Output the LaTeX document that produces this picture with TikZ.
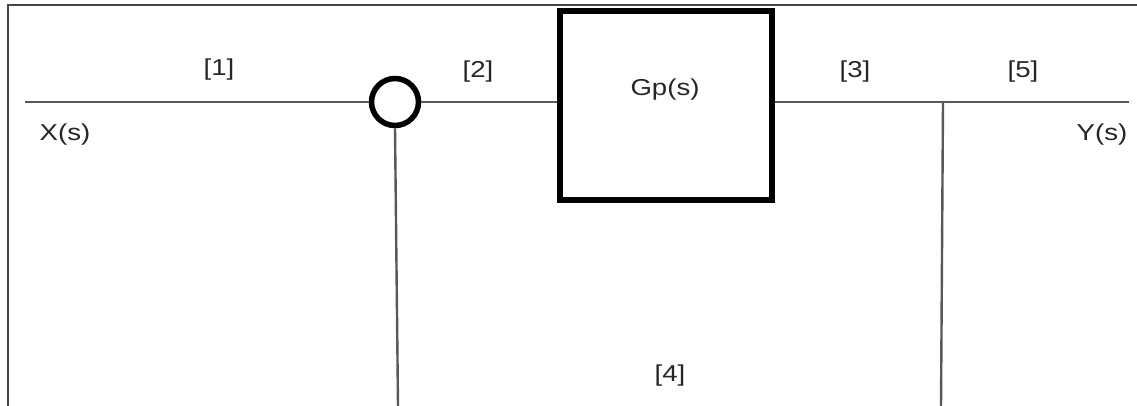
\documentclass[tikz,border=0pt]{standalone}
\usepackage{fontspec}
\setmainfont{Liberation Sans}
\begin{document}
\begin{tikzpicture}[x=1pt,y=-1pt,
  wire/.style={draw=black!65,line width=2.4pt},
  framel/.style={draw=black!72,line width=2pt},
  lbl/.style={text=black!85,inner sep=0pt,font=\fontsize{23}{27}\selectfont},
  sumnode/.style={circle,draw=black,line width=5.5pt,minimum size=47pt,inner sep=0pt},
  blocknode/.style={rectangle,draw=black,line width=6pt,minimum width=212pt,minimum height=189pt,inner sep=0pt}]
\useasboundingbox (0,0) rectangle (1137,405);
\fill[white] (0,0) rectangle (1137,405);
\draw[framel] (8,406) -- (8,5) -- (1138,5);
% nodes
\node[sumnode] (sum) at (395,102) {};
\node[blocknode] (gp) at (666,105.5) {};
\node[lbl] (gplabel) at (665,90) {\scalebox{1.2}[1]{Gp(s)}};
\coordinate (xin) at (25,102);
\coordinate (junc) at (943,102);
\coordinate (yout) at (1129,102);
\coordinate (fbl) at (398,406);
\coordinate (fbr) at (941,406);
% connectors
\draw[wire] (xin) -- (sum.west);
\draw[wire] (sum.east) -- (sum.east -| gp.west);
\draw[wire] (junc -| gp.east) -- (junc) -- (yout);
\draw[wire] (sum.south) -- (fbl);
\draw[wire] (junc) -- (fbr);
% labels
\node[lbl] (l1) at (219,70) {\scalebox{1.2}[1]{[1]}};
\node[lbl] (l2) at (478,72) {\scalebox{1.2}[1]{[2]}};
\node[lbl] (l3) at (855,72) {\scalebox{1.2}[1]{[3]}};
\node[lbl] (l5) at (1023,72) {\scalebox{1.2}[1]{[5]}};
\node[lbl] (l4) at (670,376) {\scalebox{1.2}[1]{[4]}};
\node[lbl] (xs) at (65,135) {\scalebox{1.2}[1]{X(s)}};
\node[lbl] (ys) at (1102,135) {\scalebox{1.2}[1]{Y(s)}};
\end{tikzpicture}
\end{document}
